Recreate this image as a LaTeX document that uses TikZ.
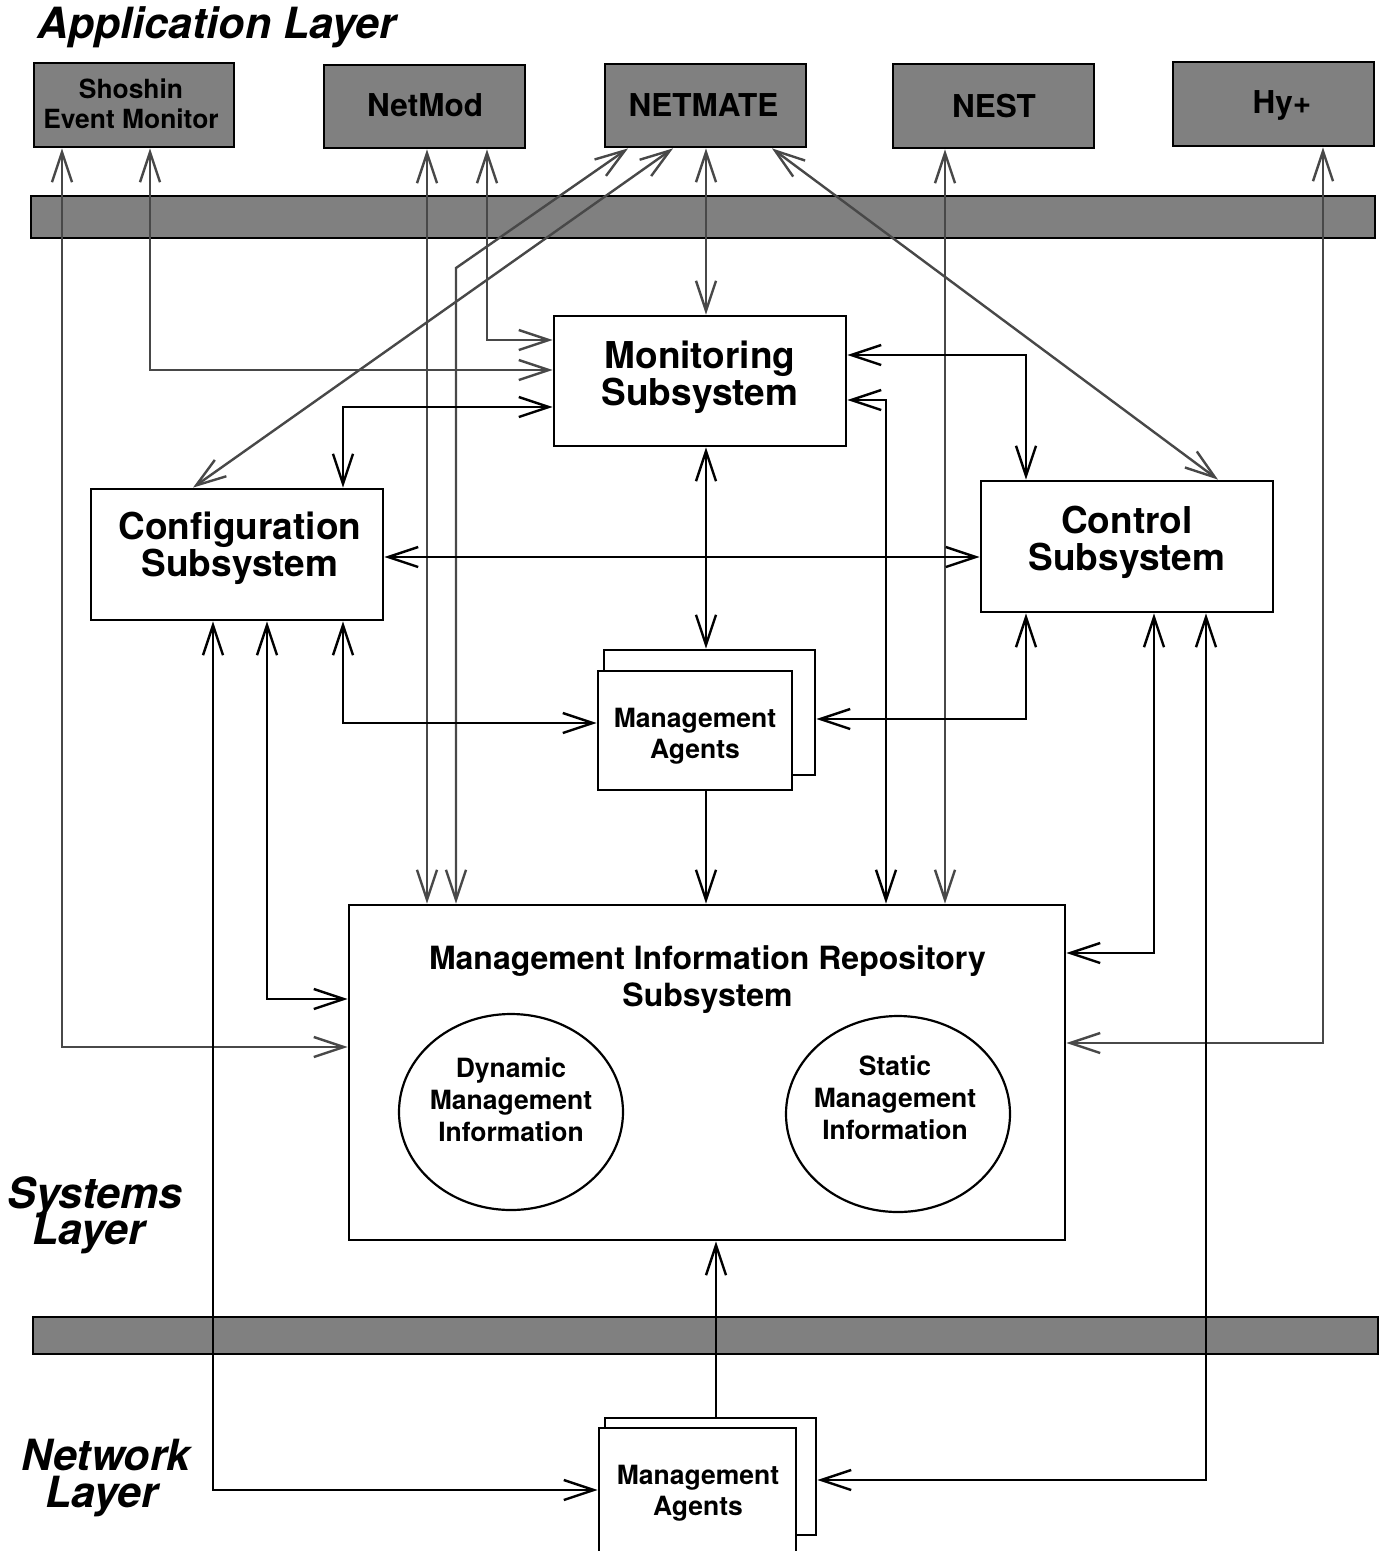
\documentclass[tikz,border=0pt]{standalone}
\usepackage{fontspec}
\setmainfont{TeX Gyre Heros}
\usetikzlibrary{arrows.meta,shapes.geometric}
\definecolor{panelgray}{RGB}{128,128,128}
\definecolor{wiregray}{RGB}{72,72,72}
\tikzset{
  barb/.tip={Straight Barb[length=30pt,width=20pt]},
  appbox/.style={draw, line width=2.8pt, fill=panelgray, inner sep=0pt},
  layerbar/.style={draw, line width=2.8pt, fill=panelgray, inner sep=0pt},
  sysbox/.style={draw, line width=2.8pt, fill=white, inner sep=0pt},
  infoblob/.style={ellipse, draw, line width=2.2pt, inner sep=0pt},
  wire/.style={draw=wiregray, line width=2.4pt, barb-barb},
  link/.style={draw=black, line width=2.4pt, barb-barb},
  feed/.style={draw=black, line width=2.4pt, -barb},
  lbl/.style={inner sep=0pt, align=center, font=\bfseries},
  apptxt/.style={inner sep=0pt, anchor=base, font=\fontsize{31.5}{31.5}\selectfont\bfseries},
  subtxt/.style={lbl, font=\fontsize{37}{37}\selectfont\bfseries},
  smalltxt/.style={lbl, font=\fontsize{26.5}{31}\selectfont\bfseries},
  layertxt/.style={inner sep=0pt, anchor=base, font=\fontsize{43}{43}\selectfont\bfseries\itshape},
}
\begin{document}
\begin{tikzpicture}[x=1pt, y=-1pt]
\fill[white] (0,0) rectangle (1380,1551);
\useasboundingbox (0,0) rectangle (1380,1551);

% layer captions
\node[inner sep=0pt, anchor=base west, font=\fontsize{43}{43}\selectfont\bfseries\itshape]
  (applayer) at (37,38) {Application Layer};
\node[layertxt] (syslayerA) at (95,1208) {Systems};
\node[layertxt] (syslayerB) at (89,1244) {Layer};
\node[layertxt] (netlayerA) at (106,1470) {Network};
\node[layertxt] (netlayerB) at (102,1507) {Layer};

% application tools
\node[appbox, minimum width=200pt, minimum height=84pt] (shoshin) at (134,105) {};
\node[appbox, minimum width=201pt, minimum height=83pt] (netmod) at (424.5,106.5) {};
\node[appbox, minimum width=201pt, minimum height=83pt] (netmate) at (705.5,105.5) {};
\node[appbox, minimum width=201pt, minimum height=84pt] (nest) at (993.5,106) {};
\node[appbox, minimum width=201pt, minimum height=84pt] (hy) at (1273.5,104) {};
\node[smalltxt, font=\fontsize{26.4}{30}\selectfont\bfseries] (shoshinT) at (131,103.3) {Shoshin\\Event Monitor};
\node[apptxt] (netmodT) at (425,116) {NetMod};
\node[apptxt] (netmateT) at (703.5,116) {NETMATE};
\node[apptxt] (nestT) at (994,117) {NEST};
\node[apptxt] (hyT) at (1282,113) {Hy+};

% layer separators
\node[layerbar, minimum width=1344pt, minimum height=42pt] (topbar) at (703,217) {};
\node[layerbar, minimum width=1345pt, minimum height=37pt] (botbar) at (705.5,1335.5) {};

% subsystems
\node[sysbox, minimum width=292pt, minimum height=130pt] (mon) at (700,381) {};
\node[subtxt] (monT) at (700,377) {Monitoring\\Subsystem};
\node[sysbox, minimum width=292pt, minimum height=131pt] (conf) at (237,554.5) {};
\node[subtxt] (confT) at (240,548.5) {Configuration\\Subsystem};
\node[sysbox, minimum width=292pt, minimum height=131pt] (ctrl) at (1127,546.5) {};
\node[subtxt] (ctrlT) at (1127,542) {Control\\Subsystem};

% management agents (systems layer)
\node[sysbox, minimum width=211pt, minimum height=125pt] (maback) at (709.5,712.5) {};
\node[sysbox, minimum width=194pt, minimum height=119pt] (ma) at (695,730.5) {};
\node[smalltxt] (maT) at (695,736.5) {Management\\Agents};

% repository
\node[sysbox, minimum width=716pt, minimum height=335pt] (mir) at (707,1072.5) {};
\node[lbl, font=\fontsize{32}{37}\selectfont\bfseries] (mirT) at (707.5,979.5) {Management Information Repository\\Subsystem};
\node[infoblob, minimum width=224pt, minimum height=196pt] (dyn) at (511,1112) {};
\node[smalltxt, font=\fontsize{26.5}{32}\selectfont\bfseries] (dynT) at (511,1099.4) {Dynamic\\Management\\Information};
\node[infoblob, minimum width=224pt, minimum height=196pt] (stat) at (898,1114) {};
\node[smalltxt, font=\fontsize{26.5}{32}\selectfont\bfseries] (statT) at (895,1097.4) {Static\\Management\\Information};

% management agents (network layer)
\node[sysbox, minimum width=211pt, minimum height=117pt] (ma2back) at (710.5,1476.5) {};
\node[sysbox, minimum width=197pt, minimum height=130pt] (ma2) at (697.5,1493) {};
\node[smalltxt] (ma2T) at (698,1493.5) {Management\\Agents};

% application tools to the systems layer
\coordinate (kink) at (456,268);
\draw[wire] (62,0 |- shoshin.south) |- (mir.west |- 0,1047);
\draw[wire] (150,0 |- shoshin.south) |- (mon.west |- 0,370);
\draw[wire] (427,0 |- netmod.south) -- (427,0 |- mir.north);
\draw[wire] (487,0 |- netmod.south) |- (mon.west |- 0,340);
\draw[wire] (628,0 |- netmate.south) -- (kink) -- (456,0 |- mir.north);
\draw[wire] (673,0 |- netmate.south) -- (193,0 |- conf.north);
\draw[wire] (706,0 |- netmate.south) -- (706,0 |- mon.north);
\draw[wire] (772,0 |- netmate.south) -- (1218,0 |- ctrl.north);
\draw[wire] (945,0 |- nest.south) -- (945,0 |- mir.north);
\draw[wire] (1323,0 |- hy.south) |- (mir.east |- 0,1043);

% links inside the systems layer
\draw[link] (mon.west |- 0,407) -| (343,0 |- conf.north);
\draw[link] (mon.east |- 0,355) -| (1026,0 |- ctrl.north);
\draw[link] (mon.east |- 0,400) -| (886,0 |- mir.north);
\draw[link] (706,0 |- mon.south) -- (706,0 |- maback.north);
\draw[link] (conf.east |- 0,557) -- (ctrl.west |- 0,557);
\draw[link] (343,0 |- conf.south) |- (ma.west |- 0,723);
\draw[link] (1026,0 |- ctrl.south) |- (maback.east |- 0,719);
\draw[feed] (706,0 |- ma.south) -- (706,0 |- mir.north);
\draw[link] (267,0 |- conf.south) |- (mir.west |- 0,999);
\draw[link] (1154,0 |- ctrl.south) |- (mir.east |- 0,953);

% links down to the network layer
\draw[link] (213,0 |- conf.south) |- (ma2.west |- 0,1490);
\draw[link] (1206,0 |- ctrl.south) |- (ma2back.east |- 0,1480);
\draw[feed] (716,0 |- ma2back.north) -- (716,0 |- mir.south);
\end{tikzpicture}
\end{document}
